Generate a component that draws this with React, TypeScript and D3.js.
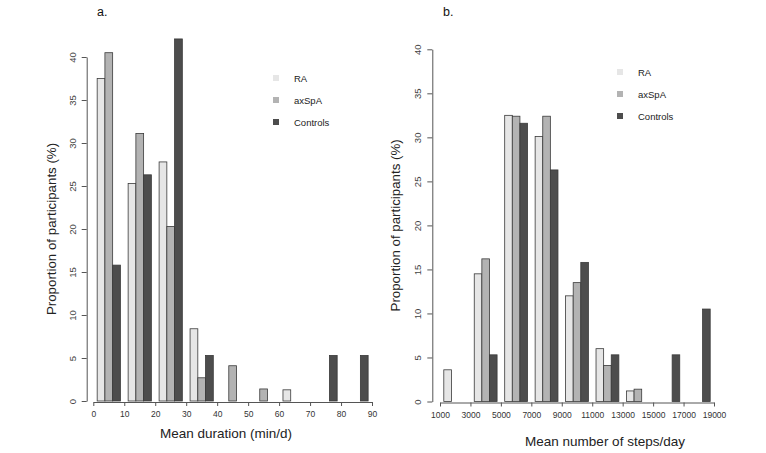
import { useEffect, useRef } from "react";
import * as d3 from "d3";

// series names and fills (RA, axSpA, Controls)
const seriesNames = ["RA", "axSpA", "Controls"];
const seriesColors = ["#e6e6e6", "#b3b3b3", "#4d4d4d"];

// panel a: mean duration (min/d), bins of 10
const durationTicks = [0, 10, 20, 30, 40, 50, 60, 70, 80, 90];
const durationRA = [37.5, 25.3, 27.8, 8.4, 0, 0, 1.3, 0, 0];
const durationAxSpA = [40.5, 31.1, 20.3, 2.7, 4.1, 1.4, 0, 0, 0];
const durationControls = [15.8, 26.3, 42.1, 5.3, 0, 0, 0, 5.3, 5.3];

// panel b: mean number of steps/day, bins of 2000
const stepsTicks = [1000, 3000, 5000, 7000, 9000, 11000, 13000, 15000, 17000, 19000];
const stepsRA = [3.6, 14.5, 32.5, 30.1, 12.0, 6.0, 1.2, 0, 0];
const stepsAxSpA = [0, 16.2, 32.4, 32.4, 13.5, 4.1, 1.4, 0, 0];
const stepsControls = [0, 5.3, 31.6, 26.3, 15.8, 5.3, 0, 5.3, 10.5];

const yTicks = [0, 5, 10, 15, 20, 25, 30, 35, 40];

const FONT = "'Liberation Sans', Arial, sans-serif";

interface PanelSpec {
    tag: string;
    tagX: number;
    xTicks: number[];
    series: number[][];
    xRange: [number, number];
    yRange: [number, number];
    yAxisX: number;
    xTitle: string;
    xTitleX: number;
    xTitleY: number;
    yTitleX: number;
    legendX: number;
    legendY: number;
    legendGap: number;
}

const panels: PanelSpec[] = [
    {
        tag: "a.",
        tagX: 97,
        xTicks: durationTicks,
        series: [durationRA, durationAxSpA, durationControls],
        xRange: [93.3, 372],
        yRange: [401, 57],
        yAxisX: 86.7,
        xTitle: "Mean duration (min/d)",
        xTitleX: 226,
        xTitleY: 438,
        yTitleX: 56,
        legendX: 273,
        legendY: 78,
        legendGap: 22,
    },
    {
        tag: "b.",
        tagX: 443,
        xTicks: stepsTicks,
        series: [stepsRA, stepsAxSpA, stepsControls],
        xRange: [440, 714],
        yRange: [401.5, 49.3],
        yAxisX: 432.3,
        xTitle: "Mean number of steps/day",
        xTitleX: 605,
        xTitleY: 446,
        yTitleX: 400,
        legendX: 617,
        legendY: 72,
        legendGap: 22,
    },
];

const App = () => {
    const svgRef = useRef<SVGSVGElement>(null);

    useEffect(() => {
        const svg = d3.select(svgRef.current);
        svg.selectAll("*").remove();

        panels.forEach((p) => {
            const g = svg.append("g").style("font-family", FONT);
            const nBins = p.xTicks.length - 1;

            const x = d3
                .scaleLinear()
                .domain([p.xTicks[0], p.xTicks[nBins]])
                .range(p.xRange);
            const y = d3.scaleLinear().domain([0, 40]).range(p.yRange);

            // one group of three bars per bin, half a bar of space each side (R barplot beside=TRUE)
            const groupScale = d3
                .scaleBand<number>()
                .domain(d3.range(nBins))
                .range(p.xRange)
                .padding(0);
            const barScale = d3
                .scaleBand<number>()
                .domain([0, 1, 2])
                .range([0, groupScale.bandwidth()])
                .paddingInner(0)
                .paddingOuter(0.5);

            p.series.forEach((values, si) => {
                g.selectAll(`rect.s${si}`)
                    .data(values.map((v, i) => ({ v, i })).filter((d) => d.v > 0))
                    .enter()
                    .append("rect")
                    .attr("class", `s${si}`)
                    .attr("x", (d) => (groupScale(d.i) ?? 0) + (barScale(si) ?? 0))
                    .attr("y", (d) => y(d.v))
                    .attr("width", barScale.bandwidth())
                    .attr("height", (d) => y(0) - y(d.v))
                    .attr("fill", seriesColors[si])
                    .attr("stroke", "#3a3a3a")
                    .attr("stroke-width", 0.8);
            });

            // y axis
            const yAxis = g
                .append("g")
                .attr("transform", `translate(${p.yAxisX},0)`)
                .call(d3.axisLeft(y).tickValues(yTicks).tickSize(5).tickSizeOuter(0));
            yAxis.select(".domain").attr("stroke", "#555");
            yAxis.selectAll(".tick line").attr("stroke", "#555");
            yAxis
                .selectAll(".tick text")
                .attr("transform", "rotate(-90)")
                .attr("x", 0)
                .attr("y", -11)
                .attr("dy", "0")
                .style("text-anchor", "middle")
                .style("font-size", "9.5px")
                .style("font-family", FONT)
                .attr("fill", "#444");

            // x axis
            const xAxis = g
                .append("g")
                .attr("transform", `translate(0,${y(0) + 1})`)
                .call(
                    d3
                        .axisBottom(x)
                        .tickValues(p.xTicks)
                        .tickFormat(d3.format("d"))
                        .tickSize(4)
                        .tickSizeOuter(0)
                );
            xAxis.select(".domain").attr("stroke", "#555");
            xAxis.selectAll(".tick line").attr("stroke", "#555");
            xAxis
                .selectAll(".tick text")
                .attr("y", 9)
                .style("font-size", "8.5px")
                .style("font-family", FONT)
                .attr("fill", "#333");

            // titles
            g.append("text")
                .attr("x", p.xTitleX)
                .attr("y", p.xTitleY)
                .attr("text-anchor", "middle")
                .style("font-size", "13.5px")
                .attr("fill", "#222")
                .text(p.xTitle);

            const midY = (p.yRange[0] + p.yRange[1]) / 2;
            g.append("text")
                .attr("transform", `translate(${p.yTitleX},${midY}) rotate(-90)`)
                .attr("text-anchor", "middle")
                .style("font-size", "13.3px")
                .attr("fill", "#222")
                .text("Proportion of participants (%)");

            g.append("text")
                .attr("x", p.tagX)
                .attr("y", 16)
                .style("font-size", "12.5px")
                .attr("fill", "#111")
                .text(p.tag);

            // legend
            const legend = g
                .selectAll("g.legend")
                .data(seriesNames)
                .enter()
                .append("g")
                .attr("class", "legend")
                .attr("transform", (_, i) => `translate(${p.legendX},${p.legendY + i * p.legendGap})`);
            legend
                .append("rect")
                .attr("x", 0)
                .attr("y", -3)
                .attr("width", 6)
                .attr("height", 6)
                .attr("fill", (_, i) => seriesColors[i]);
            legend
                .append("text")
                .attr("x", 21)
                .attr("y", 3.5)
                .style("font-size", "9.5px")
                .attr("fill", "#222")
                .text((d) => d);
        });
    }, []);

    return (
        <svg
            ref={svgRef}
            width={766}
            height={453}
            style={{ position: "absolute", left: 0, top: 0, background: "#fff" }}
        ></svg>
    );
};

export default App;
